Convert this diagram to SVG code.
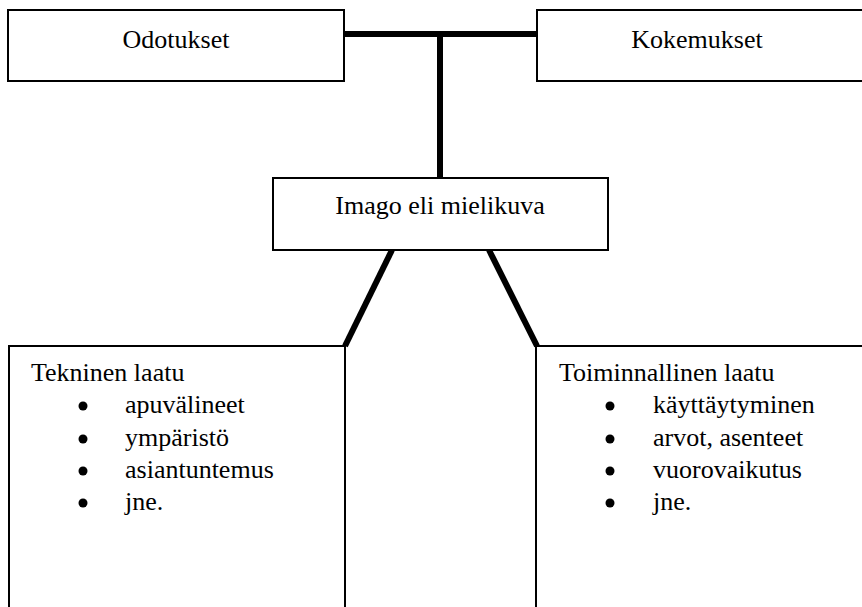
<svg xmlns="http://www.w3.org/2000/svg" width="862" height="607" viewBox="0 0 862 607">
  <style>
    .box { fill: #ffffff; stroke: #000000; stroke-width: 2; }
    .link { stroke: #000000; stroke-width: 6; fill: none; stroke-linecap: butt; }
    .label { font-family: 'Liberation Serif', 'Times New Roman', serif; font-size: 26px; fill: #000000; }
    .mid { text-anchor: middle; }
    .dot { fill: #000000; }
  </style>
  <rect width="862" height="607" fill="#ffffff"/>

  <!-- connectors: T-junction from the top pair down to the image box, then two slanted legs -->
  <g id="connectors">
    <line class="link" x1="344" y1="34" x2="537" y2="34"/>
    <line class="link" x1="440" y1="34" x2="440" y2="178"/>
    <line class="link" x1="392" y1="250" x2="345" y2="346"/>
    <line class="link" x1="489" y1="250" x2="537" y2="346"/>
  </g>

  <g id="odotukset">
    <rect class="box" x="8" y="10" width="336" height="71"/>
    <text class="label mid" x="176" y="48">Odotukset</text>
  </g>

  <g id="kokemukset">
    <rect class="box" x="537" y="10" width="330" height="71"/>
    <text class="label mid" x="697" y="48">Kokemukset</text>
  </g>

  <g id="imago">
    <rect class="box" x="273" y="178" width="335" height="72"/>
    <text class="label mid" x="440" y="214">Imago eli mielikuva</text>
  </g>

  <g id="tekninen-laatu">
    <rect class="box" x="9" y="346" width="336" height="270"/>
    <text class="label" x="31" y="381">Tekninen laatu</text>
    <circle class="dot" cx="83" cy="406" r="4.5"/>
    <text class="label" x="125" y="413">apuvälineet</text>
    <circle class="dot" cx="83" cy="439" r="4.5"/>
    <text class="label" x="125" y="446">ympäristö</text>
    <circle class="dot" cx="83" cy="471" r="4.5"/>
    <text class="label" x="125" y="478">asiantuntemus</text>
    <circle class="dot" cx="83" cy="503" r="4.5"/>
    <text class="label" x="125" y="510">jne.</text>
  </g>

  <g id="toiminnallinen-laatu">
    <rect class="box" x="536" y="346" width="336" height="270"/>
    <text class="label" x="559" y="381">Toiminnallinen laatu</text>
    <circle class="dot" cx="610" cy="406" r="4.5"/>
    <text class="label" x="653" y="413">käyttäytyminen</text>
    <circle class="dot" cx="610" cy="439" r="4.5"/>
    <text class="label" x="653" y="446">arvot, asenteet</text>
    <circle class="dot" cx="610" cy="471" r="4.5"/>
    <text class="label" x="653" y="478">vuorovaikutus</text>
    <circle class="dot" cx="610" cy="503" r="4.5"/>
    <text class="label" x="653" y="510">jne.</text>
  </g>
</svg>
